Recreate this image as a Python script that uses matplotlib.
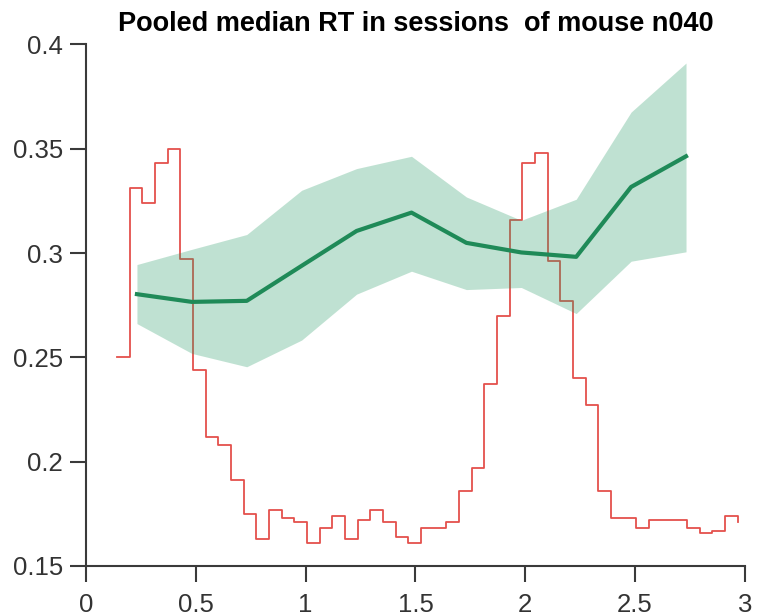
import numpy as np
import matplotlib.pyplot as plt

# histogram (red stairs): bin edges span and per-bin values
hist_start, hist_end = 0.141, 2.967
hist_vals = [0.250, 0.331, 0.324, 0.343, 0.350, 0.297, 0.244, 0.212, 0.208, 0.191,
             0.175, 0.163, 0.177, 0.173, 0.171, 0.161, 0.168, 0.174, 0.163, 0.172,
             0.177, 0.171, 0.164, 0.161, 0.168, 0.168, 0.171, 0.186, 0.197, 0.237,
             0.270, 0.316, 0.343, 0.348, 0.296, 0.277, 0.240, 0.227, 0.186, 0.173,
             0.173, 0.168, 0.172, 0.172, 0.172, 0.168, 0.166, 0.167, 0.174]
hist_last = 0.171

# pooled median RT (green) with its spread
rt_x = [0.232, 0.482, 0.732, 0.982, 1.232, 1.482, 1.732, 1.982, 2.232, 2.482, 2.732]
rt_med = [0.2803, 0.2766, 0.2771, 0.2939, 0.3106, 0.3194, 0.3049, 0.3003, 0.2982, 0.3317, 0.3464]
rt_hi = [0.2945, 0.3018, 0.3089, 0.3301, 0.3405, 0.3464, 0.3269, 0.3157, 0.3258, 0.3676, 0.3911]
rt_lo = [0.2662, 0.2519, 0.2455, 0.2583, 0.2803, 0.2913, 0.2825, 0.2835, 0.2710, 0.2961, 0.3006]

plt.rcParams['font.family'] = ['Liberation Sans', 'DejaVu Sans']

fig = plt.figure(figsize=(7.57, 6.16), dpi=100)
ax = fig.add_axes([0.1136, 0.0812, 0.8704, 0.8466])

edges = np.linspace(hist_start, hist_end, len(hist_vals) + 1)
ax.step(edges, hist_vals + [hist_last], where='post', color='#e4504c', lw=1.3, zorder=1)

ax.fill_between(rt_x, rt_lo, rt_hi, color='#2e9e6a', alpha=0.3, lw=0, zorder=2)
ax.plot(rt_x, rt_med, color='#1f8a58', lw=3, zorder=3)

ax.set_xlim(0, 3)
ax.set_ylim(0.15, 0.4)
ax.set_xticks([0, 0.5, 1, 1.5, 2, 2.5, 3])
ax.set_xticklabels(['0', '0.5', '1', '1.5', '2', '2.5', '3'])
ax.set_yticks([0.15, 0.2, 0.25, 0.3, 0.35, 0.4])
ax.set_yticklabels(['0.15', '0.2', '0.25', '0.3', '0.35', '0.4'])

for s in ['top', 'right']:
    ax.spines[s].set_visible(False)
for s in ['left', 'bottom']:
    ax.spines[s].set_color('#3a3a3a')
    ax.spines[s].set_linewidth(1.5)
ax.tick_params(direction='out', length=11.5, width=1.5, color='#3a3a3a',
               labelsize=18.5, labelcolor='#333333')
ax.tick_params(axis='y', pad=5)
ax.tick_params(axis='x', pad=8)

ax.set_title('Pooled median RT in sessions  of mouse n040', fontsize=19.5,
             fontweight='bold', pad=9.5)

fig.savefig('out.png', dpi=100)
